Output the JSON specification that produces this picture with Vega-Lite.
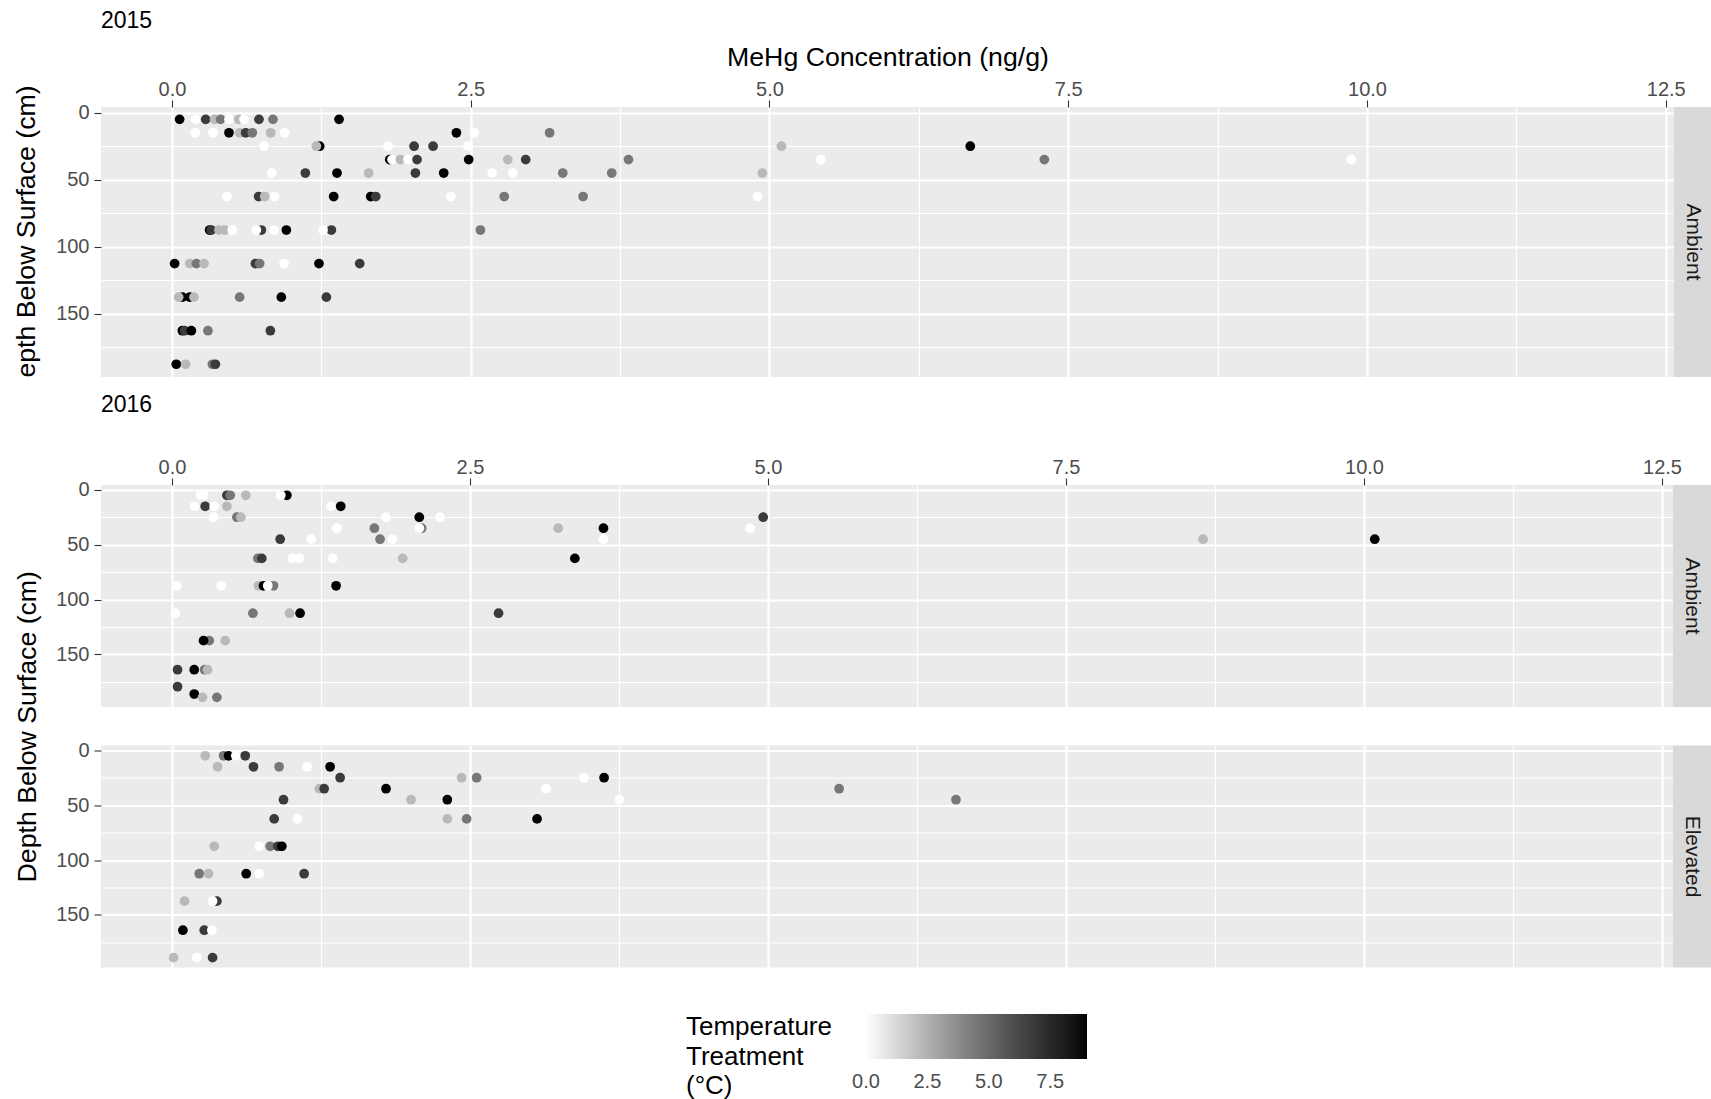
{
  "$schema": "https://vega.github.io/schema/vega-lite/v6.json",
  "background": "white",
  "padding": {"left": 13, "top": 10, "right": 0, "bottom": 0},
  "datasets": {
    "p15": [
      {"depth":5,"mehg":0.064,"temp":9},{"depth":5,"mehg":0.198,"temp":0},{"depth":5,"mehg":0.282,"temp":6.75},{"depth":5,"mehg":0.357,"temp":2.25},{"depth":5,"mehg":0.407,"temp":4.5},{"depth":5,"mehg":0.477,"temp":0},{"depth":5,"mehg":0.558,"temp":2.25},{"depth":5,"mehg":0.603,"temp":0},{"depth":5,"mehg":0.728,"temp":6.75},{"depth":5,"mehg":0.845,"temp":4.5},{"depth":5,"mehg":1.398,"temp":9},
      {"depth":15,"mehg":0.195,"temp":0},{"depth":15,"mehg":0.343,"temp":0},{"depth":15,"mehg":0.477,"temp":9},{"depth":15,"mehg":0.566,"temp":2.25},{"depth":15,"mehg":0.617,"temp":6.75},{"depth":15,"mehg":0.672,"temp":4.5},{"depth":15,"mehg":0.826,"temp":2.25},{"depth":15,"mehg":0.943,"temp":0},{"depth":15,"mehg":2.38,"temp":9},{"depth":15,"mehg":2.528,"temp":0},{"depth":15,"mehg":3.16,"temp":4.5},
      {"depth":25,"mehg":0.77,"temp":0},{"depth":25,"mehg":1.236,"temp":9},{"depth":25,"mehg":1.208,"temp":2.25},{"depth":25,"mehg":1.808,"temp":0},{"depth":25,"mehg":2.026,"temp":6.75},{"depth":25,"mehg":2.185,"temp":6.75},{"depth":25,"mehg":2.478,"temp":0},{"depth":25,"mehg":5.10,"temp":2.25},{"depth":25,"mehg":6.68,"temp":9},
      {"depth":35,"mehg":1.822,"temp":9},{"depth":35,"mehg":1.842,"temp":0},{"depth":35,"mehg":1.911,"temp":2.25},{"depth":35,"mehg":1.975,"temp":0},{"depth":35,"mehg":2.051,"temp":6.75},{"depth":35,"mehg":2.483,"temp":9},{"depth":35,"mehg":2.81,"temp":2.25},{"depth":35,"mehg":2.96,"temp":6.75},{"depth":35,"mehg":3.82,"temp":4.5},{"depth":35,"mehg":5.43,"temp":0},{"depth":35,"mehg":7.30,"temp":4.5},{"depth":35,"mehg":9.87,"temp":0},
      {"depth":45,"mehg":0.834,"temp":0},{"depth":45,"mehg":1.116,"temp":6.75},{"depth":45,"mehg":1.381,"temp":9},{"depth":45,"mehg":1.646,"temp":2.25},{"depth":45,"mehg":2.037,"temp":6.75},{"depth":45,"mehg":2.274,"temp":9},{"depth":45,"mehg":2.68,"temp":0},{"depth":45,"mehg":2.85,"temp":0},{"depth":45,"mehg":3.27,"temp":4.5},{"depth":45,"mehg":3.68,"temp":4.5},{"depth":45,"mehg":4.94,"temp":2.25},
      {"depth":62.5,"mehg":0.46,"temp":0},{"depth":62.5,"mehg":0.725,"temp":6.75},{"depth":62.5,"mehg":0.776,"temp":2.25},{"depth":62.5,"mehg":0.859,"temp":0},{"depth":62.5,"mehg":1.353,"temp":9},{"depth":62.5,"mehg":1.663,"temp":9},{"depth":62.5,"mehg":1.705,"temp":6.75},{"depth":62.5,"mehg":2.333,"temp":0},{"depth":62.5,"mehg":2.78,"temp":4.5},{"depth":62.5,"mehg":3.44,"temp":4.5},{"depth":62.5,"mehg":4.90,"temp":0},
      {"depth":87.5,"mehg":0.315,"temp":9},{"depth":87.5,"mehg":0.329,"temp":6.75},{"depth":87.5,"mehg":0.393,"temp":2.25},{"depth":87.5,"mehg":0.441,"temp":2.25},{"depth":87.5,"mehg":0.505,"temp":0},{"depth":87.5,"mehg":0.748,"temp":6.75},{"depth":87.5,"mehg":0.706,"temp":0},{"depth":87.5,"mehg":0.854,"temp":0},{"depth":87.5,"mehg":0.957,"temp":9},{"depth":87.5,"mehg":1.334,"temp":6.75},{"depth":87.5,"mehg":1.264,"temp":0},{"depth":87.5,"mehg":2.581,"temp":4.5},
      {"depth":112.5,"mehg":0.022,"temp":9},{"depth":112.5,"mehg":0.148,"temp":2.25},{"depth":112.5,"mehg":0.204,"temp":4.5},{"depth":112.5,"mehg":0.268,"temp":2.25},{"depth":112.5,"mehg":0.698,"temp":6.75},{"depth":112.5,"mehg":0.734,"temp":4.5},{"depth":112.5,"mehg":0.938,"temp":0},{"depth":112.5,"mehg":1.23,"temp":9},{"depth":112.5,"mehg":1.571,"temp":6.75},
      {"depth":137.5,"mehg":0.087,"temp":9},{"depth":137.5,"mehg":0.056,"temp":2.25},{"depth":137.5,"mehg":0.148,"temp":9},{"depth":137.5,"mehg":0.184,"temp":2.25},{"depth":137.5,"mehg":0.566,"temp":4.5},{"depth":137.5,"mehg":0.915,"temp":9},{"depth":137.5,"mehg":1.292,"temp":6.75},
      {"depth":162.5,"mehg":0.087,"temp":9},{"depth":162.5,"mehg":0.106,"temp":6.75},{"depth":162.5,"mehg":0.162,"temp":9},{"depth":162.5,"mehg":0.301,"temp":4.5},{"depth":162.5,"mehg":0.823,"temp":6.75},
      {"depth":187.5,"mehg":0.036,"temp":9},{"depth":187.5,"mehg":0.114,"temp":2.25},{"depth":187.5,"mehg":0.338,"temp":4.5},{"depth":187.5,"mehg":0.363,"temp":6.75}
    ],
    "p16a": [
      {"depth":5,"mehg":0.237,"temp":0},{"depth":5,"mehg":0.265,"temp":0},{"depth":5,"mehg":0.461,"temp":6.75},{"depth":5,"mehg":0.489,"temp":4.5},{"depth":5,"mehg":0.62,"temp":2.25},{"depth":5,"mehg":0.964,"temp":9},{"depth":5,"mehg":0.913,"temp":0},
      {"depth":15,"mehg":0.19,"temp":0},{"depth":15,"mehg":0.279,"temp":6.75},{"depth":15,"mehg":0.355,"temp":0},{"depth":15,"mehg":0.461,"temp":2.25},{"depth":15,"mehg":1.335,"temp":0},{"depth":15,"mehg":1.416,"temp":9},
      {"depth":25,"mehg":0.349,"temp":0},{"depth":25,"mehg":0.545,"temp":4.5},{"depth":25,"mehg":0.578,"temp":2.25},{"depth":25,"mehg":1.796,"temp":0},{"depth":25,"mehg":2.075,"temp":9},{"depth":25,"mehg":2.249,"temp":0},{"depth":25,"mehg":4.96,"temp":6.75},
      {"depth":35,"mehg":1.383,"temp":0},{"depth":35,"mehg":1.698,"temp":4.5},{"depth":35,"mehg":2.095,"temp":4.5},{"depth":35,"mehg":2.075,"temp":0},{"depth":35,"mehg":3.24,"temp":2.25},{"depth":35,"mehg":3.62,"temp":9},{"depth":35,"mehg":4.85,"temp":0},
      {"depth":45,"mehg":0.908,"temp":6.75},{"depth":45,"mehg":1.168,"temp":0},{"depth":45,"mehg":1.746,"temp":4.5},{"depth":45,"mehg":1.849,"temp":0},{"depth":45,"mehg":3.62,"temp":0},{"depth":45,"mehg":8.65,"temp":2.25},{"depth":45,"mehg":10.09,"temp":9},
      {"depth":62.5,"mehg":0.721,"temp":4.5},{"depth":62.5,"mehg":0.754,"temp":6.75},{"depth":62.5,"mehg":1.011,"temp":0},{"depth":62.5,"mehg":1.07,"temp":0},{"depth":62.5,"mehg":1.349,"temp":0},{"depth":62.5,"mehg":1.936,"temp":2.25},{"depth":62.5,"mehg":3.38,"temp":9},
      {"depth":87.5,"mehg":0.042,"temp":0},{"depth":87.5,"mehg":0.413,"temp":0},{"depth":87.5,"mehg":0.726,"temp":2.25},{"depth":87.5,"mehg":0.768,"temp":9},{"depth":87.5,"mehg":0.852,"temp":4.5},{"depth":87.5,"mehg":0.804,"temp":0},{"depth":87.5,"mehg":1.377,"temp":9},
      {"depth":112.5,"mehg":0.028,"temp":0},{"depth":112.5,"mehg":0.679,"temp":4.5},{"depth":112.5,"mehg":0.986,"temp":2.25},{"depth":112.5,"mehg":1.075,"temp":9},{"depth":112.5,"mehg":2.74,"temp":6.75},
      {"depth":137.5,"mehg":0.313,"temp":4.5},{"depth":137.5,"mehg":0.265,"temp":9},{"depth":137.5,"mehg":0.447,"temp":2.25},
      {"depth":164,"mehg":0.047,"temp":6.75},{"depth":164,"mehg":0.187,"temp":9},{"depth":164,"mehg":0.274,"temp":4.5},{"depth":164,"mehg":0.299,"temp":2.25},
      {"depth":179.5,"mehg":0.047,"temp":6.75},
      {"depth":186.2,"mehg":0.187,"temp":9},
      {"depth":189.2,"mehg":0.257,"temp":2.25},{"depth":189.2,"mehg":0.377,"temp":4.5}
    ],
    "p16e": [
      {"depth":5,"mehg":0.279,"temp":2.25},{"depth":5,"mehg":0.433,"temp":4.5},{"depth":5,"mehg":0.475,"temp":9},{"depth":5,"mehg":0.536,"temp":0},{"depth":5,"mehg":0.615,"temp":6.75},
      {"depth":15,"mehg":0.383,"temp":2.25},{"depth":15,"mehg":0.684,"temp":6.75},{"depth":15,"mehg":0.899,"temp":4.5},{"depth":15,"mehg":1.134,"temp":0},{"depth":15,"mehg":1.327,"temp":9},
      {"depth":25,"mehg":1.411,"temp":6.75},{"depth":25,"mehg":2.43,"temp":2.25},{"depth":25,"mehg":2.556,"temp":4.5},{"depth":25,"mehg":3.456,"temp":0},{"depth":25,"mehg":3.625,"temp":9},
      {"depth":35,"mehg":1.237,"temp":2.25},{"depth":35,"mehg":1.277,"temp":6.75},{"depth":35,"mehg":1.796,"temp":9},{"depth":35,"mehg":3.138,"temp":0},{"depth":35,"mehg":5.597,"temp":4.5},
      {"depth":45,"mehg":0.936,"temp":6.75},{"depth":45,"mehg":2.006,"temp":2.25},{"depth":45,"mehg":2.31,"temp":9},{"depth":45,"mehg":3.752,"temp":0},{"depth":45,"mehg":6.577,"temp":4.5},
      {"depth":62.5,"mehg":0.858,"temp":6.75},{"depth":62.5,"mehg":1.053,"temp":0},{"depth":62.5,"mehg":2.31,"temp":2.25},{"depth":62.5,"mehg":2.472,"temp":4.5},{"depth":62.5,"mehg":3.063,"temp":9},
      {"depth":87.5,"mehg":0.355,"temp":2.25},{"depth":87.5,"mehg":0.732,"temp":0},{"depth":87.5,"mehg":0.824,"temp":4.5},{"depth":87.5,"mehg":0.888,"temp":6.75},{"depth":87.5,"mehg":0.922,"temp":9},
      {"depth":112.5,"mehg":0.229,"temp":4.5},{"depth":112.5,"mehg":0.307,"temp":2.25},{"depth":112.5,"mehg":0.623,"temp":9},{"depth":112.5,"mehg":0.732,"temp":0},{"depth":112.5,"mehg":1.109,"temp":6.75},
      {"depth":137.5,"mehg":0.106,"temp":2.25},{"depth":137.5,"mehg":0.377,"temp":6.75},{"depth":137.5,"mehg":0.341,"temp":0},
      {"depth":164,"mehg":0.092,"temp":9},{"depth":164,"mehg":0.271,"temp":6.75},{"depth":164,"mehg":0.335,"temp":0},
      {"depth":189,"mehg":0.014,"temp":2.25},{"depth":189,"mehg":0.209,"temp":0},{"depth":189,"mehg":0.341,"temp":6.75}
    ],
    "stripA": [{"s": "Ambient"}],
    "stripE": [{"s": "Elevated"}]
  },
  "spacing": 16,
  "vconcat": [
    {
      "title": {"text": "2015", "anchor": "start", "frame": "group", "fontSize": 23, "fontWeight": "normal", "color": "#000000", "offset": 10.7},
      "spacing": 0,
      "bounds": "flush",
      "hconcat": [
        {
          "width": 1573, "height": 270,
          "data": {"name": "p15"},
          "view": {"fill": "#ebebeb", "stroke": null},
          "mark": {"type": "circle", "size": 95, "opacity": 1},
          "encoding": {
            "x": {"field": "mehg", "type": "quantitative",
              "scale": {"domain": [-0.594, 12.569], "nice": false, "zero": false},
              "axis": {"orient": "top", "title": "MeHg Concentration (ng/g)", "titlePadding": 8,
                "values": [0, 1.25, 2.5, 3.75, 5, 6.25, 7.5, 8.75, 10, 11.25, 12.5],
                "labelExpr": "datum.value % 2.5 === 0 ? format(datum.value, '.1f') : ''",
                "tickOpacity": {"condition": {"test": "datum.value % 2.5 !== 0", "value": 0}, "value": 1},
                "gridWidth": {"condition": {"test": "datum.value % 2.5 !== 0", "value": 1.1}, "value": 2.2}}},
            "y": {"field": "depth", "type": "quantitative",
              "scale": {"domain": [-4.2, 197], "reverse": true, "nice": false, "zero": false},
              "axis": {"title": "epth Below Surface (cm)", "titlePadding": 15.4, "titleY": 124,
                "values": [0, 25, 50, 75, 100, 125, 150, 175],
                "labelExpr": "datum.value % 50 === 0 ? datum.label : ''",
                "tickOpacity": {"condition": {"test": "datum.value % 50 !== 0", "value": 0}, "value": 1},
                "gridWidth": {"condition": {"test": "datum.value % 50 !== 0", "value": 1.1}, "value": 2.2}}},
            "color": {"field": "temp", "type": "quantitative",
              "scale": {"domain": [-0.001, 9], "range": ["#ffffff", "#000000"], "interpolate": "lab"},
              "legend": {"orient": "none", "legendX": 585, "legendY": 907, "direction": "horizontal",
                "title": ["Temperature", "Treatment", "(°C)"], "titleOrient": "left", "titleAnchor": "start", "titleBaseline": "top",
                "titleFontSize": 26, "titleFontWeight": "normal",
                "titleColor": "#000000", "titleLineHeight": 29.5, "titlePadding": 34, "gradientLength": 221, "gradientThickness": 45,
                "gradientStrokeWidth": 0, "labelFontSize": 20, "labelColor": "#4d4d4d", "labelOffset": 12.5,
                "values": [0, 2.5, 5, 7.5], "format": ".1f"}}
          }
        },
        {
          "width": 38, "height": 270,
          "data": {"name": "stripA"},
          "view": {"fill": "#d9d9d9", "stroke": null},
          "mark": {"type": "text", "angle": 90, "fontSize": 21, "color": "#1a1a1a", "align": "center", "baseline": "middle"},
          "encoding": {"text": {"field": "s", "type": "nominal"}}
        }
      ]
    },
    {
      "title": {"text": "Depth Below Surface (cm)", "orient": "left", "anchor": "middle", "fontSize": 26.7, "fontWeight": "normal", "color": "#000000", "offset": 14, "dx": -46},
      "spacing": 32.5,
      "vconcat": [
        {
          "title": {"text": "2016", "anchor": "start", "frame": "group", "fontSize": 23, "fontWeight": "normal", "color": "#000000", "offset": 40},
          "spacing": 0,
          "bounds": "flush",
          "hconcat": [
            {
              "width": 1572, "height": 222,
              "data": {"name": "p16a"},
              "view": {"fill": "#ebebeb", "stroke": null},
              "mark": {"type": "circle", "size": 95, "opacity": 1},
              "encoding": {
                "x": {"field": "mehg", "type": "quantitative",
                  "scale": {"domain": [-0.595, 12.592], "nice": false, "zero": false},
                  "axis": {"orient": "top", "title": null,
                    "values": [0, 1.25, 2.5, 3.75, 5, 6.25, 7.5, 8.75, 10, 11.25, 12.5],
                    "labelExpr": "datum.value % 2.5 === 0 ? format(datum.value, '.1f') : ''",
                    "tickOpacity": {"condition": {"test": "datum.value % 2.5 !== 0", "value": 0}, "value": 1},
                    "gridWidth": {"condition": {"test": "datum.value % 2.5 !== 0", "value": 1.1}, "value": 2.2}}},
                "y": {"field": "depth", "type": "quantitative",
                  "scale": {"domain": [-4.4, 198], "reverse": true, "nice": false, "zero": false},
                  "axis": {"title": null,
                    "values": [0, 25, 50, 75, 100, 125, 150, 175],
                    "labelExpr": "datum.value % 50 === 0 ? datum.label : ''",
                    "tickOpacity": {"condition": {"test": "datum.value % 50 !== 0", "value": 0}, "value": 1},
                    "gridWidth": {"condition": {"test": "datum.value % 50 !== 0", "value": 1.1}, "value": 2.2}}},
                "color": {"field": "temp", "type": "quantitative",
                  "scale": {"domain": [-0.001, 9], "range": ["#ffffff", "#000000"], "interpolate": "lab"},
                  "legend": {"orient": "none", "legendX": 585, "legendY": 907, "direction": "horizontal",
                    "title": ["Temperature", "Treatment", "(°C)"], "titleOrient": "left", "titleAnchor": "start", "titleBaseline": "top",
                    "titleFontSize": 26, "titleFontWeight": "normal",
                    "titleColor": "#000000", "titleLineHeight": 29.5, "titlePadding": 34, "gradientLength": 221, "gradientThickness": 45,
                    "gradientStrokeWidth": 0, "labelFontSize": 20, "labelColor": "#4d4d4d", "labelOffset": 12.5,
                    "values": [0, 2.5, 5, 7.5], "format": ".1f"}}
              }
            },
            {
              "width": 38, "height": 222,
              "data": {"name": "stripA"},
              "view": {"fill": "#d9d9d9", "stroke": null},
              "mark": {"type": "text", "angle": 90, "fontSize": 21, "color": "#1a1a1a", "align": "center", "baseline": "middle"},
              "encoding": {"text": {"field": "s", "type": "nominal"}}
            }
          ]
        },
        {
          "spacing": 0,
          "bounds": "flush",
          "hconcat": [
            {
              "width": 1572, "height": 222,
              "data": {"name": "p16e"},
              "view": {"fill": "#ebebeb", "stroke": null},
              "mark": {"type": "circle", "size": 95, "opacity": 1},
              "encoding": {
                "x": {"field": "mehg", "type": "quantitative",
                  "scale": {"domain": [-0.595, 12.592], "nice": false, "zero": false},
                  "axis": {"orient": "top", "title": null, "labels": false, "ticks": false,
                    "values": [0, 1.25, 2.5, 3.75, 5, 6.25, 7.5, 8.75, 10, 11.25, 12.5],
                    "gridWidth": {"condition": {"test": "datum.value % 2.5 !== 0", "value": 1.1}, "value": 2.2}}},
                "y": {"field": "depth", "type": "quantitative",
                  "scale": {"domain": [-4.4, 198], "reverse": true, "nice": false, "zero": false},
                  "axis": {"title": null,
                    "values": [0, 25, 50, 75, 100, 125, 150, 175],
                    "labelExpr": "datum.value % 50 === 0 ? datum.label : ''",
                    "tickOpacity": {"condition": {"test": "datum.value % 50 !== 0", "value": 0}, "value": 1},
                    "gridWidth": {"condition": {"test": "datum.value % 50 !== 0", "value": 1.1}, "value": 2.2}}},
                "color": {"field": "temp", "type": "quantitative",
                  "scale": {"domain": [-0.001, 9], "range": ["#ffffff", "#000000"], "interpolate": "lab"},
                  "legend": {"orient": "none", "legendX": 585, "legendY": 907, "direction": "horizontal",
                    "title": ["Temperature", "Treatment", "(°C)"], "titleOrient": "left", "titleAnchor": "start", "titleBaseline": "top",
                    "titleFontSize": 26, "titleFontWeight": "normal",
                    "titleColor": "#000000", "titleLineHeight": 29.5, "titlePadding": 34, "gradientLength": 221, "gradientThickness": 45,
                    "gradientStrokeWidth": 0, "labelFontSize": 20, "labelColor": "#4d4d4d", "labelOffset": 12.5,
                    "values": [0, 2.5, 5, 7.5], "format": ".1f"}}
              }
            },
            {
              "width": 38, "height": 222,
              "data": {"name": "stripE"},
              "view": {"fill": "#d9d9d9", "stroke": null},
              "mark": {"type": "text", "angle": 90, "fontSize": 21, "color": "#1a1a1a", "align": "center", "baseline": "middle"},
              "encoding": {"text": {"field": "s", "type": "nominal"}}
            }
          ]
        }
      ]
    }
  ],
  "config": {
    "font": "Liberation Sans",
    "axis": {"domain": false, "labelFontSize": 20, "labelColor": "#4d4d4d", "tickColor": "#333333", "tickWidth": 1.1, "tickSize": 7,
      "labelPadding": 5, "gridColor": "#ffffff", "titleFontSize": 26.7, "titleFontWeight": "normal", "titleColor": "#000000",
      "labelOverlap": false, "labelFlush": false},
    "axisX": {"labelPadding": 1},
    "title": {"font": "Liberation Sans"},
    "legend": {"labelFont": "Liberation Sans", "titleFont": "Liberation Sans"}
  }
}
